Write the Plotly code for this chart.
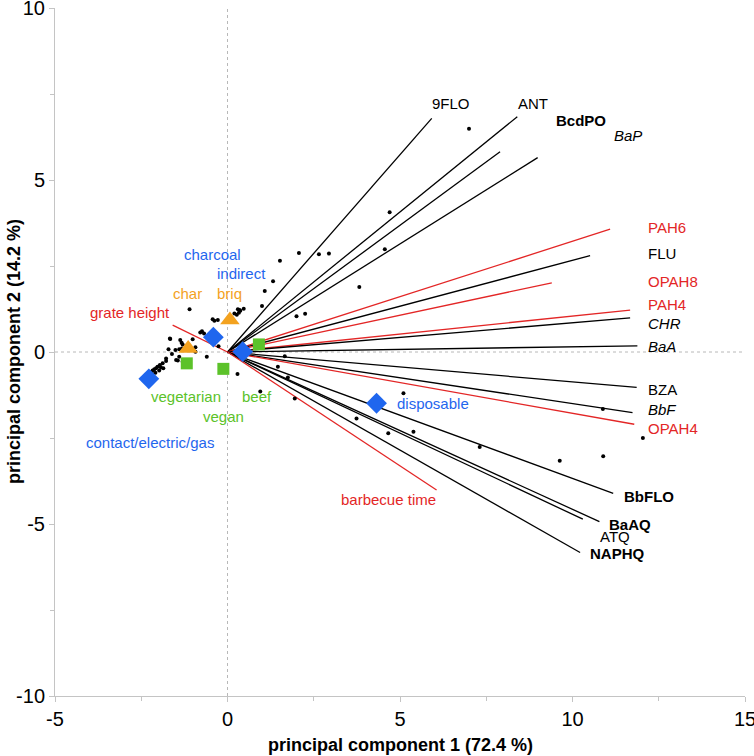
import plotly.graph_objects as go

# ---------------- data ----------------
# loading vectors (end points, PCA space)
load_names = ["9FLO", "ANT", "BcdPO", "BaP", "PAH6", "FLU", "OPAH8", "PAH4", "CHR", "BaA",
              "BZA", "BbF", "OPAH4", "BbFLO", "BaAQ", "ATQ", "NAPHQ", "barbecue time", "grate height"]
load_x = [5.92, 8.40, 7.90, 8.99, 11.09, 10.51, 9.40, 11.67, 11.67, 11.88,
          11.86, 11.74, 11.79, 11.18, 10.78, 10.30, 10.22, 6.06, -1.59]
load_y = [6.79, 6.84, 5.82, 5.65, 3.57, 2.80, 2.01, 1.22, 0.99, 0.18,
          -1.03, -1.76, -2.10, -4.11, -4.93, -4.86, -5.83, -4.01, 0.78]
# label anchor points for the loading vectors
label_x = [6.48, 8.85, 10.25, 11.62, 12.13, 12.13, 12.13, 12.13, 12.13, 12.13,
           12.13, 12.13, 12.13, 11.43, 10.99, 10.75, 10.46, 4.66, -1.61]
label_y = [7.21, 7.21, 6.74, 6.28, 3.63, 2.85, 2.06, 1.37, 0.84, 0.17,
           -1.08, -1.66, -2.21, -4.21, -5.00, -5.37, -5.85, -4.30, 1.14]

# sample scores
score_x = [7.0, 4.70, 4.56, 2.07, 2.65, 2.94, 1.52, 1.32, 1.08, 3.82, 1.0, 2.0, 2.25, 0.47, 0.35,
           1.66, 1.46, 1.75, 0.95, 1.95, 5.10, 3.74, 4.66, 5.39, 7.31, 9.63, 10.88, 10.89, 12.04, 0.29,
           -1.10, -0.43, -0.38, -0.28, 0.20, 0.27, 0.33, 0.37, 0.30, -0.79, -0.74, -0.68, -1.67,
           -1.37, -1.33, -1.30, -1.01, -1.71, -1.51, -1.32, -1.40, -0.93, -0.93, -0.60, -1.61,
           -1.49, -1.44, -1.40, -1.30, -1.78, -1.78, -1.88, -1.96, -1.93, -2.03, -2.07, -2.12,
           -2.17, -2.22, -2.27, -1.86, -1.98, -2.09, -2.19, -2.32, -0.26, -1.66]
score_y = [6.49, 4.06, 2.99, 2.88, 2.84, 2.86, 2.65, 2.06, 1.77, 1.89, 1.34, 1.04, 1.11, 1.26, 1.22,
           -0.12, -0.43, -0.74, -1.15, -1.35, -1.20, -1.93, -2.36, -2.32, -2.76, -3.16, -1.66, -3.03, -2.50, -0.64,
           1.24, 0.95, 0.91, 0.93, 1.12, 1.08, 1.14, 1.20, 1.24, 0.57, 0.60, 0.54, 0.39,
           0.35, 0.27, 0.22, 0.37, 0.08, 0.06, 0.10, 0.08, 0.14, 0.01, -0.14, -0.06,
           -0.23, -0.25, -0.14, -0.28, -0.26, -0.19, -0.33, -0.38, -0.45, -0.43, -0.47, -0.50,
           -0.54, -0.58, -0.62, -0.47, -0.54, -0.60, -0.64, -0.67, 0.17, 0.38]

# group centroids
grill_x = [-2.28, -0.41, 0.44, 4.32]
grill_y = [-0.78, 0.43, 0.01, -1.49]
fuel_x = [-1.14, 0.07]
fuel_y = [0.10, 0.93]
food_x = [-1.18, -0.12, 0.91]
food_y = [-0.33, -0.49, 0.22]

# group labels
grill_labels = ["contact/electric/gas", "charcoal", "indirect", "disposable"]
grill_lab_x = [-2.25, -0.43, 0.40, 4.86]
grill_lab_y = [-2.64, 2.82, 2.27, -1.49]
fuel_labels = ["char", "briq"]
fuel_lab_x = [-1.17, 0.07]
fuel_lab_y = [1.71, 1.71]
food_labels = ["vegetarian", "vegan", "beef"]
food_lab_x = [-1.20, -0.12, 0.86]
food_lab_y = [-1.30, -1.88, -1.30]

# axis ticks
x_ticks = [-5, 0, 5, 10, 15]
y_ticks = [-10, -5, 0, 5, 10]

# ---------------- styles ----------------
RED = "#e32626"
BLUE = "#1f66ee"
GREEN = "#5cc22a"
ORANGE = "#f3a21f"
red_names = {"PAH6", "OPAH8", "PAH4", "OPAH4", "barbecue time", "grate height"}
bold_names = {"BcdPO", "BbFLO", "BaAQ", "NAPHQ"}
italic_names = {"BaP", "CHR", "BaA", "BbF"}
center_names = {"9FLO", "ANT", "BcdPO", "BaP", "barbecue time"}
right_names = {"grate height"}

FONT = "Liberation Sans, Arial, sans-serif"
NARROW = "Liberation Sans Narrow, Arial Narrow, Liberation Sans, sans-serif"

fig = go.Figure()

# loading vectors
for n, x, y in zip(load_names, load_x, load_y):
    fig.add_trace(go.Scatter(x=[0, x], y=[0, y], mode="lines",
                             line=dict(color=RED if n in red_names else "black", width=1.3),
                             hoverinfo="skip", showlegend=False))

# scores
fig.add_trace(go.Scatter(x=score_x, y=score_y, mode="markers",
                         marker=dict(color="black", size=4), showlegend=False))

# centroids
fig.add_trace(go.Scatter(x=food_x, y=food_y, mode="markers",
                         marker=dict(symbol="square", color=GREEN, size=12), showlegend=False))
fig.add_trace(go.Scatter(x=fuel_x, y=fuel_y, mode="markers",
                         marker=dict(symbol="triangle-up", color=ORANGE, size=17), showlegend=False))
fig.add_trace(go.Scatter(x=grill_x, y=grill_y, mode="markers",
                         marker=dict(symbol="diamond", color=BLUE, size=16), showlegend=False))

annotations = []
for n, x, y in zip(load_names, label_x, label_y):
    txt = n
    if n in bold_names:
        txt = "<b>%s</b>" % n
    elif n in italic_names:
        txt = "<i>%s</i>" % n
    if n in center_names:
        xa = "center"
    elif n in right_names:
        xa = "right"
    else:
        xa = "left"
    annotations.append(dict(x=x, y=y, text=txt, showarrow=False, xanchor=xa, yanchor="middle",
                            font=dict(family=FONT, size=15, color=RED if n in red_names else "black")))

for labs, xs, ys, col, anc in [(grill_labels, grill_lab_x, grill_lab_y, BLUE, ["center", "center", "center", "left"]),
                               (fuel_labels, fuel_lab_x, fuel_lab_y, ORANGE, ["center", "center"]),
                               (food_labels, food_lab_x, food_lab_y, GREEN, ["center", "center", "center"])]:
    for t, x, y, a in zip(labs, xs, ys, anc):
        annotations.append(dict(x=x, y=y, text=t, showarrow=False, xanchor=a, yanchor="middle",
                                font=dict(family=FONT, size=15, color=col)))

# axis titles
annotations.append(dict(xref="paper", yref="paper", x=0.5, y=0, yshift=-49, xanchor="center", yanchor="middle",
                        text="<b>principal component 1 (72.4 %)</b>", showarrow=False,
                        font=dict(family=NARROW, size=18, color="black")))
annotations.append(dict(xref="paper", yref="paper", x=0, y=0.5, xshift=-41, xanchor="center", yanchor="middle",
                        text="<b>principal component 2 (14.2 %)</b>", showarrow=False, textangle=-90,
                        font=dict(family=NARROW, size=18, color="black")))

AX = "#c4c4c4"
axis_common = dict(showgrid=False, zeroline=False, showline=True, linecolor=AX, linewidth=1,
                   ticks="outside", ticklen=5, tickcolor=AX, tickwidth=1, automargin=False,
                   ticklabeloverflow="allow",
                   tickfont=dict(family=FONT, size=20, color="black"),
                   minor=dict(dtick=2.5, ticks="outside", ticklen=4, tickcolor=AX), mirror=False)

fig.update_layout(
    width=754, height=756,
    margin=dict(l=55, r=9, t=8, b=60),
    paper_bgcolor="white", plot_bgcolor="white",
    xaxis=dict(range=[-5, 15], tickmode="array", tickvals=x_ticks,
               ticktext=[str(v) for v in x_ticks], **axis_common),
    yaxis=dict(range=[-10, 10], tickmode="array", tickvals=y_ticks,
               ticktext=[str(v) for v in y_ticks], **axis_common),
    annotations=annotations,
    shapes=[
        dict(type="line", xref="x", yref="paper", x0=0, x1=0, y0=0, y1=1, layer="below",
             line=dict(color="#b8b8b8", width=1, dash="dot")),
        dict(type="line", xref="paper", yref="y", x0=0, x1=1, y0=0, y1=0, layer="below",
             line=dict(color="#b8b8b8", width=1, dash="dot")),
    ],
    showlegend=False,
)

fig.write_html("out.html", config={"displayModeBar": False},
               post_script="document.body.style.margin='0';document.body.style.overflow='hidden';")
